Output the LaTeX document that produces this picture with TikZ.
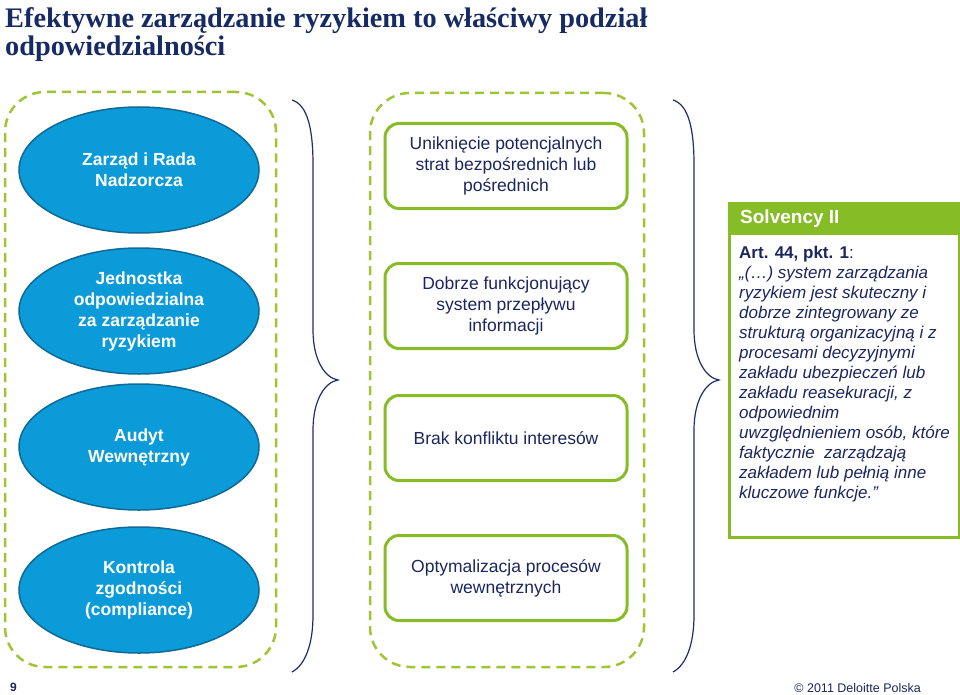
\documentclass[tikz,border=0pt]{standalone}
\usepackage{fontspec}
\setmainfont{Liberation Sans}
\newfontfamily\titlefont{Liberation Serif}
\usetikzlibrary{shapes.geometric}
\definecolor{navy}{RGB}{27,38,94}
\definecolor{titleblue}{RGB}{22,43,100}
\definecolor{dblue}{RGB}{11,155,216}
\definecolor{dbluedark}{RGB}{16,105,150}
\definecolor{lime}{RGB}{134,188,37}
\definecolor{dashlime}{RGB}{160,196,50}
\definecolor{bracecol}{RGB}{30,45,100}
\begin{document}
\begin{tikzpicture}[x=1pt,y=-1pt,
 oval/.style={ellipse, fill=dblue, draw=dbluedark, line width=1.5pt, minimum width=240pt, minimum height=126pt, text=white, font=\fontsize{17.5}{21}\selectfont\bfseries, align=center, inner sep=0pt},
 goal/.style={rectangle, rounded corners=14pt, draw=lime, line width=3pt, minimum width=242pt, minimum height=85pt, text=navy, font=\fontsize{17.5}{21}\selectfont, align=center},
 group/.style={rectangle, rounded corners=40pt, draw=dashlime, line width=2.5pt, dash pattern=on 9pt off 6pt},
 brace/.style={draw=bracecol, line width=1.2pt}
]
\useasboundingbox (0,0) rectangle (960,695);
% title
\node[anchor=base west, inner sep=0pt, text=titleblue, font=\titlefont\bfseries\fontsize{28.3}{30}\selectfont] (t1) at (5,28) {Efektywne zarządzanie ryzykiem to właściwy podział};
\node[anchor=base west, inner sep=0pt, text=titleblue, font=\titlefont\bfseries\fontsize{28.3}{30}\selectfont] (t2) at (5,56) {odpowiedzialności};
% groups
\node[group, minimum width=271pt, minimum height=575pt] (g1) at (140.5,379.5) {};
\node[group, minimum width=274pt, minimum height=574pt] (g2) at (507,380) {};
% ellipses
\node[oval] (e1) at (139,170) {Zarząd i Rada\\Nadzorcza};
\node[oval] (e2) at (139,311) {Jednostka\\odpowiedzialna\\za zarządzanie\\ryzykiem};
\node[oval] (e3) at (139,447) {Audyt\\Wewnętrzny};
\node[oval] (e4) at (139,590) {Kontrola\\zgodności\\(compliance)};
% goals
\node[goal] (b1) at (506,166) {Uniknięcie potencjalnych\\strat bezpośrednich lub\\pośrednich};
\node[goal] (b2) at (506,306) {Dobrze funkcjonujący\\system przepływu\\informacji};
\node[goal] (b3) at (506,438) {Brak konfliktu interesów};
\node[goal] (b4) at (506,578) {Optymalizacja procesów\\wewnętrznych};
% braces
\draw[brace] (292,100) .. controls (308,105) and (313,130) .. (313,165) -- (313,330) .. controls (313,360) and (325,378) .. (338,380) .. controls (325,382) and (313,400) .. (313,430) -- (313,615) .. controls (313,645) and (305,665) .. (292,672);
\draw[brace] (673,100) .. controls (689,105) and (694,130) .. (694,165) -- (694,330) .. controls (694,360) and (706,378) .. (719,380) .. controls (706,382) and (694,400) .. (694,430) -- (694,615) .. controls (694,645) and (686,665) .. (673,672);
% Solvency box
\node[draw=lime, line width=2.5pt, minimum width=230pt, minimum height=334pt, anchor=north west, inner sep=0pt] (solv) at (728,202) {};
\node[fill=lime, minimum width=230pt, minimum height=33pt, anchor=north west, inner sep=0pt] (head) at (728,202) {};
\node[anchor=west, text=white, font=\fontsize{19}{20}\selectfont\bfseries, inner sep=0pt] (htext) at (740,219) {Solvency II};
\node[anchor=north west, align=left, text=navy, inner sep=0pt, font=\fontsize{17}{20}\selectfont] (body) at (739,246) {\textbf{Art. 44, pkt. 1}:\\
\itshape „(…) system zarządzania\\
\itshape ryzykiem jest skuteczny i\\
\itshape dobrze zintegrowany ze\\
\itshape strukturą organizacyjną i z\\
\itshape procesami decyzyjnymi\\
\itshape zakładu ubezpieczeń lub\\
\itshape zakładu reasekuracji, z\\
\itshape odpowiednim\\
\itshape uwzględnieniem osób, które\\
\itshape faktycznie\ \ zarządzają\\
\itshape zakładem lub pełnią inne\\
\itshape kluczowe funkcje.”};
% footer
\node[anchor=base west, text=navy, inner sep=0pt, font=\fontsize{12}{12}\selectfont\bfseries] (pg) at (10,691) {9};
\node[anchor=base east, text=navy, inner sep=0pt, font=\fontsize{12.5}{14}\selectfont] (copy) at (921,692) {© 2011 Deloitte Polska};
\end{tikzpicture}
\end{document}
